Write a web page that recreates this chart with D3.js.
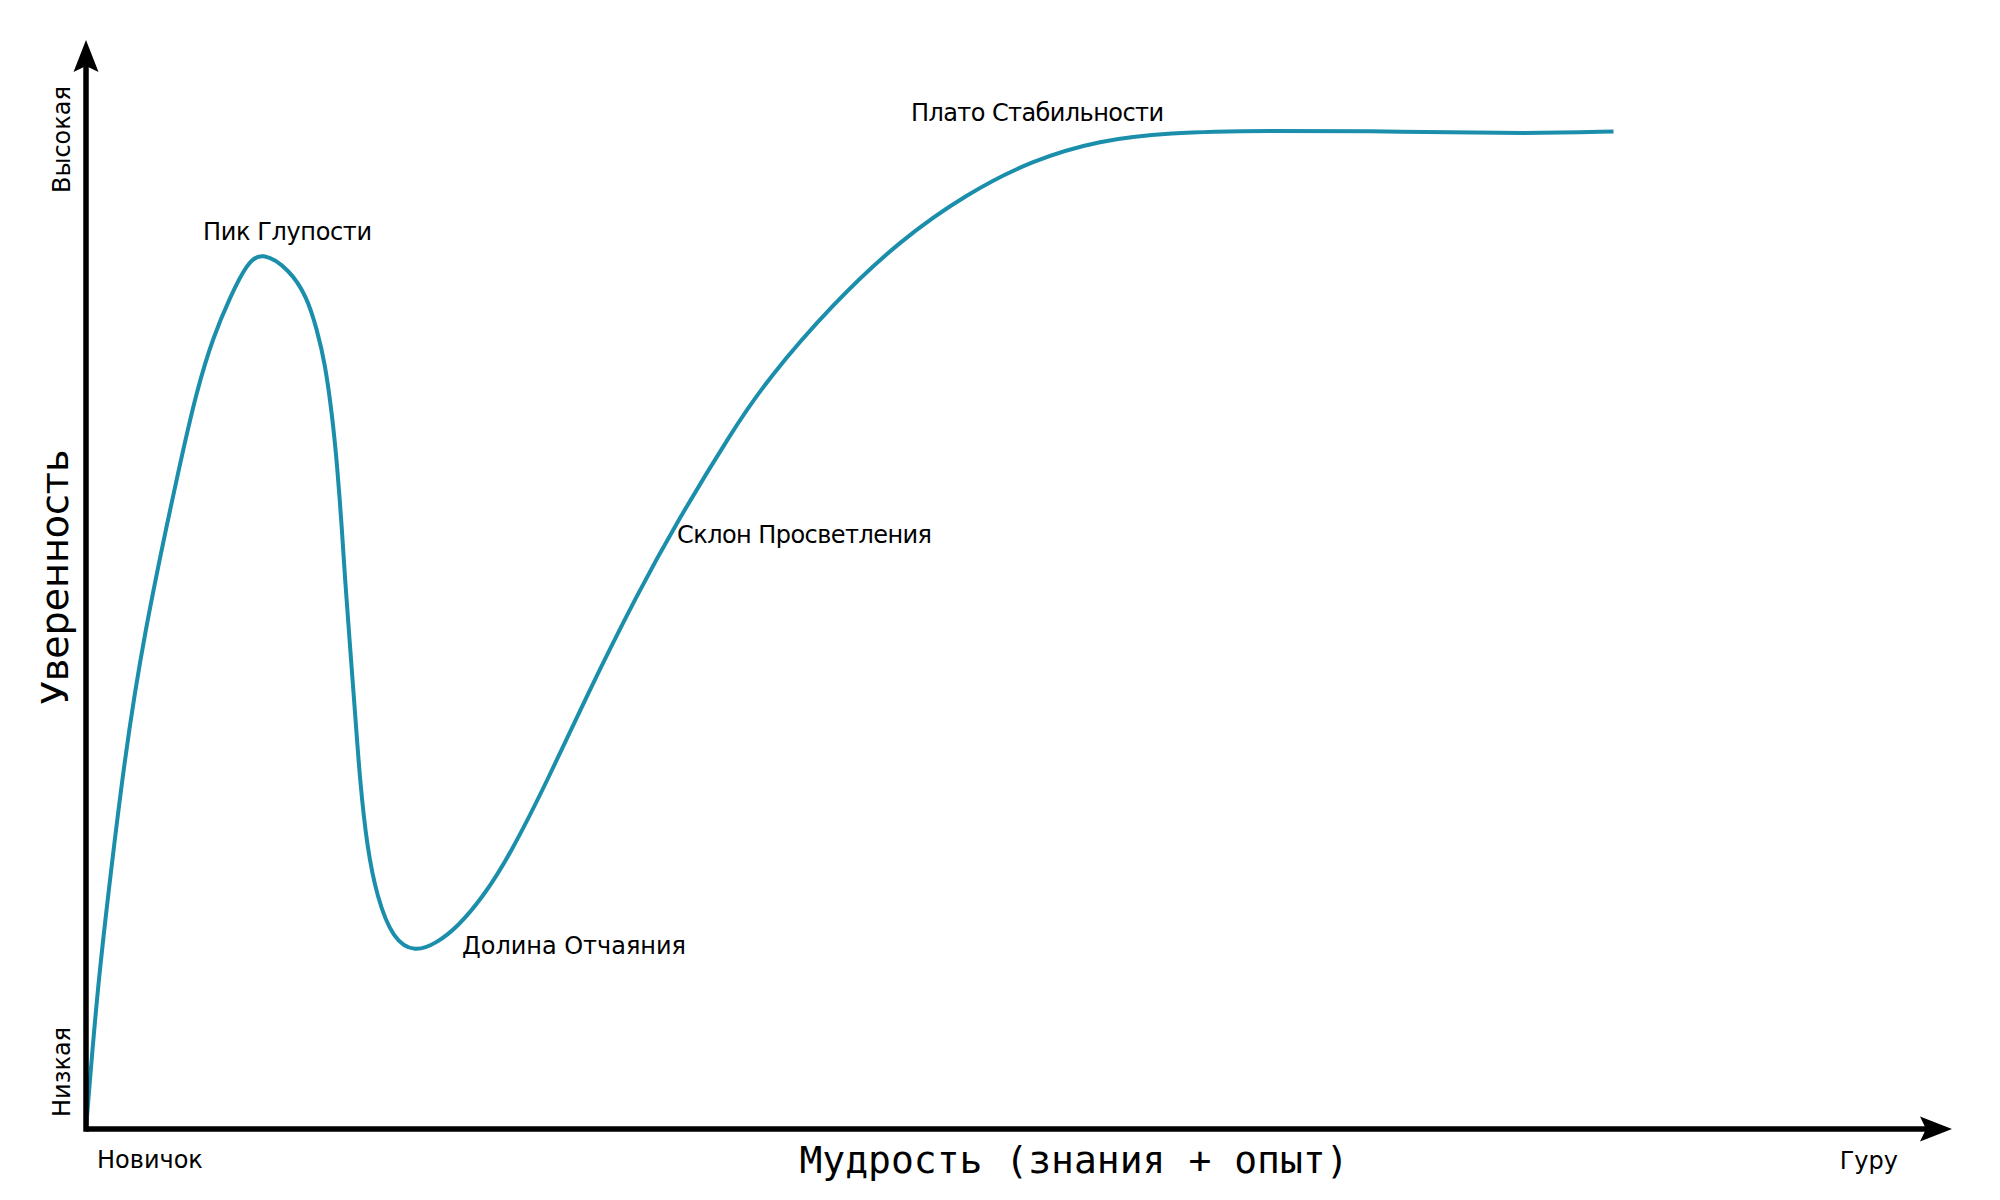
<!DOCTYPE html>
<html>
<head>
<meta charset="utf-8">
<script src="https://cdn.jsdelivr.net/npm/d3@7"></script>
<style>
  html, body { margin: 0; padding: 0; background: #fff; }
  svg { display: block; }
</style>
</head>
<body>
<div id="chart"></div>
<script>
// curve: wisdom (x) vs confidence (y), both 0..100
var wisdom = [0, 0.58, 1.20, 2.02, 3.05, 5.04, 5.95, 6.81, 7.72, 8.63, 9.41, 10.93, 11.84, 12.38, 12.81, 13.18, 13.45, 13.72, 13.88, 14.15, 14.42, 14.68, 15.06, 15.59, 16.45, 17.63, 18.81, 19.88, 21.28, 22.73, 24.79, 26.83, 29.57, 31.62, 34.67, 36.50, 40.03, 43.62, 47.21, 50.75, 54.34, 57.93, 63.06, 70.58, 77.42, 81.86];
var confidence = [0, 12.3, 21.7, 33.4, 45.1, 61.2, 67.9, 72.7, 76.4, 79.5, 80.6, 78.9, 76.4, 73.4, 70.3, 65.7, 61.2, 55.0, 50.5, 44.3, 38.2, 32.0, 25.9, 21.3, 17.4, 16.2, 17.1, 18.5, 21.3, 25.2, 32.2, 39.8, 49.2, 55.6, 64.2, 68.8, 75.8, 81.6, 85.9, 89.0, 90.8, 91.5, 91.7, 91.6, 91.4, 91.6];

var stageNames = ["Пик Глупости", "Долина Отчаяния", "Склон Просветления", "Плато Стабильности"];
var xTickLabels = ["Новичок", "Гуру"];
var yTickLabels = ["Низкая", "Высокая"];
var xTitle = "Мудрость (знания + опыт)";
var yTitle = "Уверенность";

var width = 2000, height = 1200;
var origin = { x: 86, y: 1129 };

var x = d3.scaleLinear().domain([0, 100]).range([origin.x, 1952]);
var y = d3.scaleLinear().domain([0, 100]).range([origin.y, 40]);

var svg = d3.select("#chart").append("svg")
  .attr("width", width)
  .attr("height", height)
  .attr("font-family", "'DejaVu Sans', sans-serif");

// curve (b-spline smooths out the reading noise)
var points = wisdom.map(function (w, i) { return [w, confidence[i]]; });
var line = d3.line()
  .x(function (d) { return x(d[0]); })
  .y(function (d) { return y(d[1]); })
  .curve(d3.curveBasis);

svg.append("path")
  .datum(points)
  .attr("d", line)
  .attr("fill", "none")
  .attr("stroke", "#1a8eaa")
  .attr("stroke-width", 4)
  .attr("stroke-linejoin", "round");

// axes
var axisColor = "#000";
var head = 32, half = 12.5, notch = 6;
var xEnd = x(100), yEnd = y(100);

svg.append("line")
  .attr("x1", origin.x).attr("y1", origin.y)
  .attr("x2", xEnd - head + notch).attr("y2", origin.y)
  .attr("stroke", axisColor).attr("stroke-width", 5.5);
svg.append("line")
  .attr("x1", origin.x).attr("y1", origin.y + 2.75)
  .attr("x2", origin.x).attr("y2", yEnd + head - notch)
  .attr("stroke", axisColor).attr("stroke-width", 5.5);

svg.append("path")
  .attr("d", "M" + xEnd + "," + origin.y +
    "L" + (xEnd - head) + "," + (origin.y - half) +
    "L" + (xEnd - head + notch) + "," + origin.y +
    "L" + (xEnd - head) + "," + (origin.y + half) + "Z")
  .attr("fill", axisColor);
svg.append("path")
  .attr("d", "M" + origin.x + "," + yEnd +
    "L" + (origin.x - half) + "," + (yEnd + head) +
    "L" + origin.x + "," + (yEnd + head - notch) +
    "L" + (origin.x + half) + "," + (yEnd + head) + "Z")
  .attr("fill", axisColor);

// end labels of the axes
svg.append("text")
  .attr("x", 97).attr("y", 1168)
  .attr("font-size", 24)
  .text(xTickLabels[0]);
svg.append("text")
  .attr("x", 1898).attr("y", 1169)
  .attr("text-anchor", "end")
  .attr("font-size", 24)
  .text(xTickLabels[1]);

svg.append("text")
  .attr("transform", "translate(70,1117) rotate(-90)")
  .attr("font-size", 24)
  .text(yTickLabels[0]);
svg.append("text")
  .attr("transform", "translate(70,193) rotate(-90)")
  .attr("font-size", 24)
  .text(yTickLabels[1]);

// titles
svg.append("text")
  .attr("x", 1074).attr("y", 1173)
  .attr("text-anchor", "middle")
  .attr("font-family", "'DejaVu Sans Mono', monospace")
  .attr("font-size", 38)
  .text(xTitle);
svg.append("text")
  .attr("transform", "translate(68,577) rotate(-90)")
  .attr("text-anchor", "middle")
  .attr("font-size", 38)
  .text(yTitle);

// stage annotations
var stagePos = [[203, 240, 169], [462, 954, 224], [677, 543, 255], [911, 121, 253]];
svg.selectAll(".stage")
  .data(stageNames)
  .enter().append("text")
  .attr("class", "stage")
  .attr("x", function (d, i) { return stagePos[i][0]; })
  .attr("y", function (d, i) { return stagePos[i][1]; })
  .attr("textLength", function (d, i) { return stagePos[i][2]; })
  .attr("lengthAdjust", "spacing")
  .attr("font-size", 24)
  .text(function (d) { return d; });
</script>
</body>
</html>
